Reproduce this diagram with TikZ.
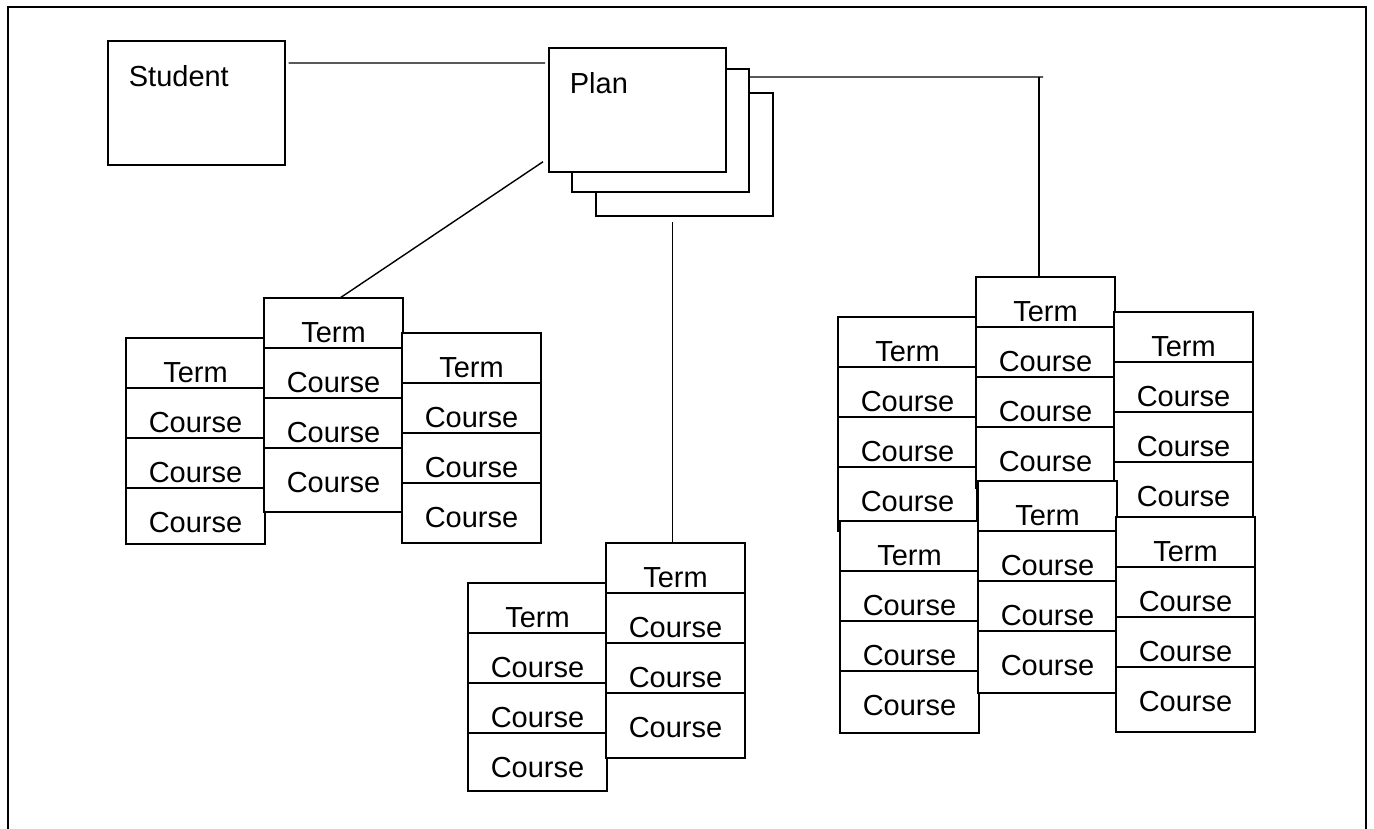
\documentclass[tikz,border=0pt]{standalone}
\usepackage{fontspec}
\setmainfont{Liberation Sans}
\usetikzlibrary{positioning}
\tikzstyle{entity} = [rectangle, draw=black, fill=white, line width=1pt, inner xsep=0.42cm, inner ysep=0pt, text width=2.7cm, align=left, text height=0.92cm, text depth=1.56cm, anchor=north west]
\tikzstyle{sheet} = [rectangle, draw=black, fill=white, line width=1pt, minimum width=3.54cm, minimum height=2.46cm, anchor=north west]
\tikzstyle{cell} = [rectangle, draw=black, fill=white, line width=1pt, inner sep=0pt, outer sep=0pt, minimum width=2.78cm, text height=0.9cm, text depth=0.1cm]
\tikzstyle{term} = [cell, anchor=north west]
\tikzstyle{link} = [line width=0.8pt]
\begin{document}
\begin{tikzpicture}[x=0.02cm, y=-0.02cm, font=\fontsize{16.5}{19}\selectfont]
\useasboundingbox (0,0) rectangle (1374,829);
\draw [line width=1.6pt] (8,829) -- (8,7) -- (1366,7) -- (1366,829);

% student and the stack of plans
\node (student) [entity] at (107,40) {Student};
\node (plan3) [sheet] at (595,92) {};
\node (plan2) [sheet] at (571,68) {};
\node (plan) [entity] at (548,47) {Plan};

% left plan
\node (lA1) [term] at (126,338) {Term};
\node (lA2) [cell, below=0pt of lA1] {Course};
\node (lA3) [cell, below=0pt of lA2] {Course};
\node (lA4) [cell, below=0pt of lA3, text depth=0.22cm] {Course};
\node (lB1) [term] at (264,298) {Term};
\node (lB2) [cell, below=0pt of lB1] {Course};
\node (lB3) [cell, below=0pt of lB2] {Course};
\node (lB4) [cell, below=0pt of lB3, text depth=0.38cm] {Course};
\node (lC1) [term] at (402,333) {Term};
\node (lC2) [cell, below=0pt of lC1] {Course};
\node (lC3) [cell, below=0pt of lC2] {Course};
\node (lC4) [cell, below=0pt of lC3, text depth=0.3cm] {Course};

% middle plan
\node (mA1) [term] at (468,583) {Term};
\node (mA2) [cell, below=0pt of mA1] {Course};
\node (mA3) [cell, below=0pt of mA2] {Course};
\node (mA4) [cell, below=0pt of mA3, text depth=0.26cm] {Course};
\node (mB1) [term] at (606,543) {Term};
\node (mB2) [cell, below=0pt of mB1] {Course};
\node (mB3) [cell, below=0pt of mB2] {Course};
\node (mB4) [cell, below=0pt of mB3, text depth=0.4cm] {Course};

% right plan, upper row
\node (uA1) [term] at (838,317) {Term};
\node (uA2) [cell, below=0pt of uA1] {Course};
\node (uA3) [cell, below=0pt of uA2] {Course};
\node (uA4) [cell, below=0pt of uA3, text depth=0.38cm] {Course};
\node (uB1) [term] at (976,277) {Term};
\node (uB2) [cell, below=0pt of uB1] {Course};
\node (uB3) [cell, below=0pt of uB2] {Course};
\node (uB4) [cell, below=0pt of uB3, text depth=0.32cm] {Course};
\node (uC1) [term] at (1114,312) {Term};
\node (uC2) [cell, below=0pt of uC1] {Course};
\node (uC3) [cell, below=0pt of uC2] {Course};
\node (uC4) [cell, below=0pt of uC3, text depth=0.32cm] {Course};

% right plan, lower row
\node (dA1) [term] at (840,521) {Term};
\node (dA2) [cell, below=0pt of dA1] {Course};
\node (dA3) [cell, below=0pt of dA2] {Course};
\node (dA4) [cell, below=0pt of dA3, text depth=0.34cm] {Course};
\node (dB1) [term] at (978,481) {Term};
\node (dB2) [cell, below=0pt of dB1] {Course};
\node (dB3) [cell, below=0pt of dB2] {Course};
\node (dB4) [cell, below=0pt of dB3, text depth=0.34cm] {Course};
\node (dC1) [term] at (1116,517) {Term};
\node (dC2) [cell, below=0pt of dC1] {Course};
\node (dC3) [cell, below=0pt of dC2] {Course};
\node (dC4) [cell, below=0pt of dC3, text depth=0.4cm] {Course};

\coordinate (hub) at (1043,77);

\draw [link, shorten <=0.06cm, shorten >=0.06cm] ([yshift=-0.46cm]student.north east) -- ([yshift=-0.32cm]plan.north west);
\draw [link] ([xshift=0.13cm]lB1.north) -- ([xshift=-0.1cm, yshift=0.22cm]plan.south west);
\draw [link, shorten >=0.1cm] ([xshift=-0.06cm]mB1.north) -- ([xshift=-0.06cm]mB1.north |- plan3.south);
\draw [link] ([yshift=-0.18cm]plan2.north east) -- (hub);
\draw [link] ([xshift=-0.13cm]uB1.north) -- ([xshift=-0.13cm]uB1.north |- hub);

\end{tikzpicture}
\end{document}
